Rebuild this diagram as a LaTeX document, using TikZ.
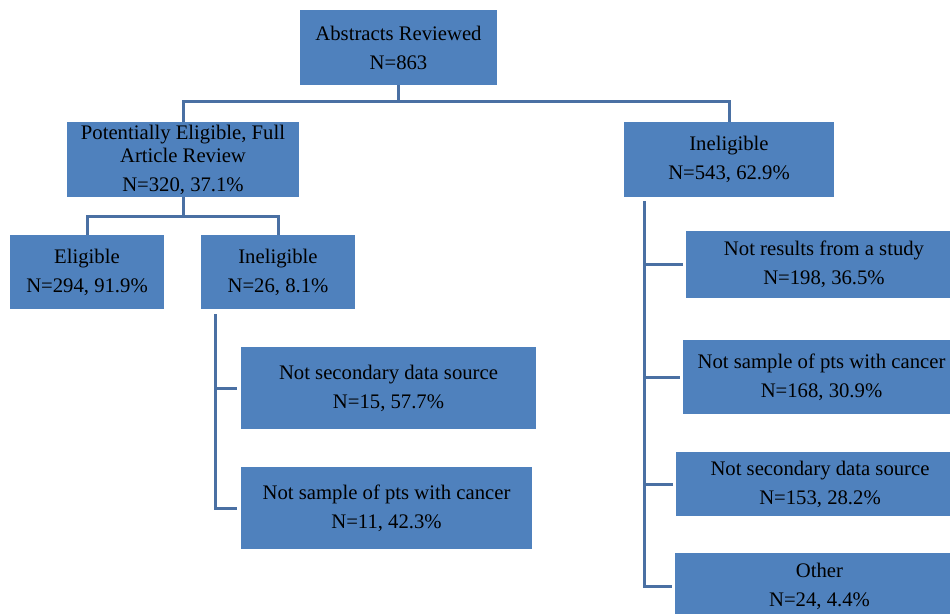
\documentclass[tikz,border=0pt]{standalone}
\usepackage{fontspec}
\setmainfont{Liberation Serif}
\definecolor{boxblue}{RGB}{79,129,189}
\definecolor{lineblue}{RGB}{74,112,163}
\begin{document}
\begin{tikzpicture}[x=1pt,y=-1pt,
  bx/.style={fill=boxblue,draw=none,align=center,inner sep=0pt,
    font=\fontsize{20.7}{29}\selectfont,text=black},
  conn/.style={draw=lineblue,line width=3pt}]
\useasboundingbox (0,0) rectangle (950,613);
\clip (0,0) rectangle (950,613);
\node[bx,minimum width=197,minimum height=75] (abs) at (398.5,47.5) {Abstracts Reviewed\\N=863};
\node[bx,minimum width=232,minimum height=75] (pot) at (183,159.5) {Potentially Eligible, Full\\[-6pt]Article Review\\N=320, 37.1\%};
\node[bx,minimum width=210,minimum height=75] (ineR) at (729,159.5) {Ineligible\\N=543, 62.9\%};
\node[bx,minimum width=154,minimum height=74] (elig) at (87,272) {Eligible\\N=294, 91.9\%};
\node[bx,minimum width=154,minimum height=74] (ineL) at (278,272) {Ineligible\\N=26, 8.1\%};
\node[bx,minimum width=295,minimum height=82] (nsdL) at (388.5,388) {Not secondary data source\\N=15, 57.7\%};
\node[bx,minimum width=291,minimum height=82] (nspL) at (386.5,508) {Not sample of pts with cancer\\N=11, 42.3\%};
\node[bx,minimum width=276,minimum height=67] (nrs) at (824,264.5) {Not results from a study\\N=198, 36.5\%};
\node[bx,minimum width=277,minimum height=74] (nspR) at (821.5,377) {Not sample of pts with cancer\\N=168, 30.9\%};
\node[bx,minimum width=288,minimum height=64] (nsdR) at (820,484) {Not secondary data source\\N=153, 28.2\%};
\node[bx,minimum width=289,minimum height=67] (oth) at (819.5,586.5) {Other\\N=24, 4.4\%};
% top level
\coordinate (j1) at (398.5,101);
\draw[conn] (abs.south) -- (j1);
\draw[conn] (pot.north) |- (j1) -| (ineR.north);
% potentially eligible split
\coordinate (j2) at (183,216);
\draw[conn] (pot.south) -- (j2);
\draw[conn] (elig.north) |- (j2) -| (ineL.north);
% left ineligible list
\coordinate (lt) at (215,314);
\draw[conn,shorten >=4pt] (lt) |- (nspL.west);
\draw[conn,shorten >=4pt] (lt |- nsdL.west) -- (nsdL.west);
% right ineligible list
\coordinate (rt) at (644,201);
\draw[conn,shorten >=3pt] (rt) |- (oth.west);
\draw[conn,shorten >=3pt] (rt |- nrs.west) -- (nrs.west);
\draw[conn,shorten >=3pt] (rt |- nspR.west) -- (nspR.west);
\draw[conn,shorten >=3pt] (rt |- nsdR.west) -- (nsdR.west);
\end{tikzpicture}
\end{document}
